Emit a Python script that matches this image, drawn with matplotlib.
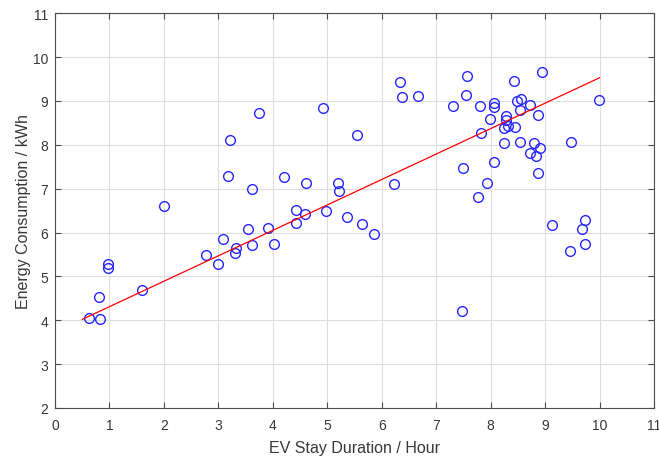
import matplotlib
matplotlib.use("Agg")
import matplotlib.pyplot as plt
import numpy as np

stay_hours = [0.62, 0.83, 0.80, 0.98, 0.98, 1.60, 2.01, 2.77, 3.00, 3.09,
              3.18, 3.21, 3.30, 3.33, 3.54, 3.61, 3.61, 3.75, 3.91, 4.03,
              4.20, 4.43, 4.43, 4.59, 4.61, 4.92, 4.97, 5.19, 5.21, 5.36,
              5.55, 5.64, 5.86, 6.22, 6.34, 6.38, 6.67, 7.30, 7.48, 7.50,
              7.55, 7.57, 7.77, 7.81, 7.83, 7.94, 7.98, 8.06, 8.07, 8.07,
              8.24, 8.24, 8.28, 8.28, 8.31, 8.42, 8.45, 8.49, 8.53, 8.53,
              8.56, 8.72, 8.72, 8.79, 8.84, 8.86, 8.87, 8.91, 8.95, 9.13,
              9.45, 9.47, 9.68, 9.73, 9.73, 9.99]
energy_kwh = [4.05, 4.02, 4.52, 5.29, 5.20, 4.70, 6.61, 5.48, 5.28, 5.85,
              7.30, 8.11, 5.54, 5.65, 6.08, 7.00, 5.72, 8.73, 6.11, 5.74,
              7.27, 6.51, 6.22, 6.43, 7.12, 8.84, 6.48, 7.14, 6.94, 6.36,
              8.23, 6.20, 5.97, 7.10, 9.43, 9.08, 9.11, 8.88, 4.21, 7.48,
              9.14, 9.57, 6.82, 8.88, 8.27, 7.14, 8.60, 7.61, 8.96, 8.86,
              8.05, 8.39, 8.65, 8.57, 8.44, 9.46, 8.40, 9.00, 8.80, 8.06,
              9.05, 8.90, 7.82, 8.04, 7.75, 8.68, 7.36, 7.92, 9.67, 6.17,
              5.59, 8.06, 6.07, 6.28, 5.73, 9.03]

fit_slope = 0.58
fit_intercept = 3.73
fit_x_range = [0.5, 10.0]

x_ticks = list(range(0, 12))
y_ticks = list(range(2, 12))

plt.rcParams['font.family'] = ['Liberation Sans', 'DejaVu Sans']

fig = plt.figure(figsize=(6.59, 4.60), dpi=100)
ax = fig.add_axes([0.0835, 0.111, 0.909, 0.858])

ax.plot(stay_hours, energy_kwh, linestyle='none', marker='o', markersize=7,
        markerfacecolor='none', markeredgecolor=(0.15, 0.15, 1.0), markeredgewidth=1.0,
        zorder=3)

fx = np.array(fit_x_range)
ax.plot(fx, fit_slope * fx + fit_intercept, color=(1, 0, 0), linewidth=0.9, zorder=4)

ax.set_xlim(0, 11)
ax.set_ylim(2, 11)
ax.set_xticks(x_ticks)
ax.set_yticks(y_ticks)
ax.grid(True, color='#dedede', linewidth=0.8)
ax.set_axisbelow(True)

axis_col = '#383838'
for s in ax.spines.values():
    s.set_color('#4d4d4d')
    s.set_linewidth(0.8)
ax.tick_params(direction='in', length=4, width=0.8, colors='#4d4d4d',
               labelcolor=axis_col, labelsize=10, top=True, right=True)
ax.tick_params(axis='x', pad=7)
ax.tick_params(axis='y', pad=5)

ax.set_xlabel('EV Stay Duration / Hour', fontsize=11.5, color=axis_col, labelpad=6)
ax.set_ylabel('Energy Consumption / kWh', fontsize=11.5, color=axis_col, labelpad=1)

fig.savefig('out.png', dpi=100)
